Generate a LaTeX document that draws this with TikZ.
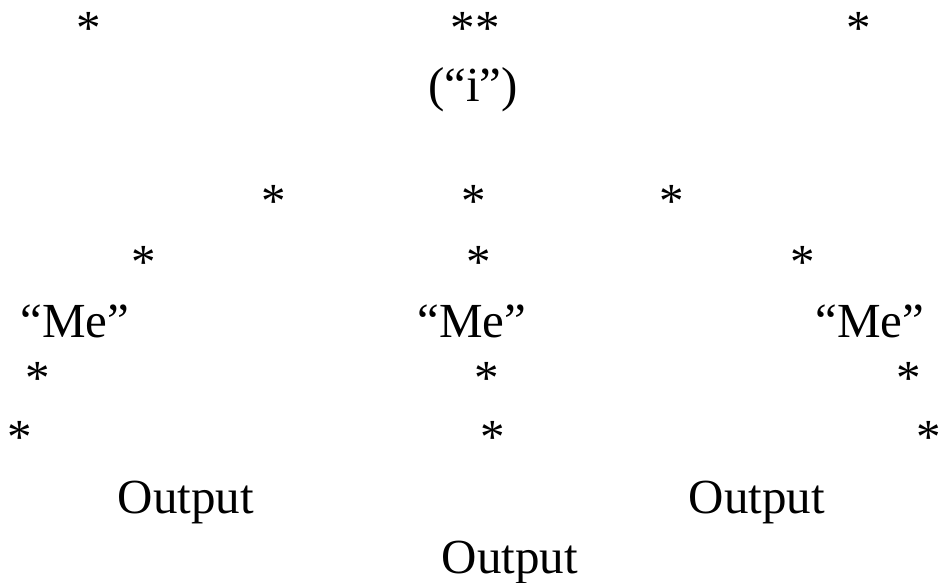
\documentclass[tikz,border=0pt]{standalone}
\usepackage{fontspec}
\setmainfont{Liberation Serif}
\begin{document}
\begin{tikzpicture}[x=1pt,y=-1pt,
  lbl/.style={inner sep=0pt,outer sep=0pt,anchor=base,font=\fontsize{49}{49}\selectfont},
  star/.style={lbl}]
\useasboundingbox[fill=white] (0,0) rectangle (943,583);
% top row
\node[star] (t1) at (89,45) {*};
\node[star] (t2) at (475,45) {**};
\node[star] (t3) at (859,45) {*};
\node[lbl] (i) at (473,102) {(“i”)};
% middle fan
\node[star] (m1) at (274,218) {*};
\node[star] (m2) at (474,218) {*};
\node[star] (m3) at (672,218) {*};
\node[star] (n1) at (144,278) {*};
\node[star] (n2) at (479,278) {*};
\node[star] (n3) at (803,278) {*};
% Me labels
\node[lbl] (me1) at (75,337) {“Me”};
\node[lbl] (me2) at (472,337) {“Me”};
\node[lbl] (me3) at (870,337) {“Me”};
% lower asterisks
\node[star] (a1) at (38,394) {*};
\node[star] (a2) at (487,394) {*};
\node[star] (a3) at (909,394) {*};
\node[star] (b1) at (20,453) {*};
\node[star] (b2) at (493,453) {*};
\node[star] (b3) at (929,453) {*};
% outputs
\node[lbl] (o1) at (186,513) {Output};
\node[lbl] (o2) at (757,513) {Output};
\node[lbl] (o3) at (510,573) {Output};
\end{tikzpicture}
\end{document}
